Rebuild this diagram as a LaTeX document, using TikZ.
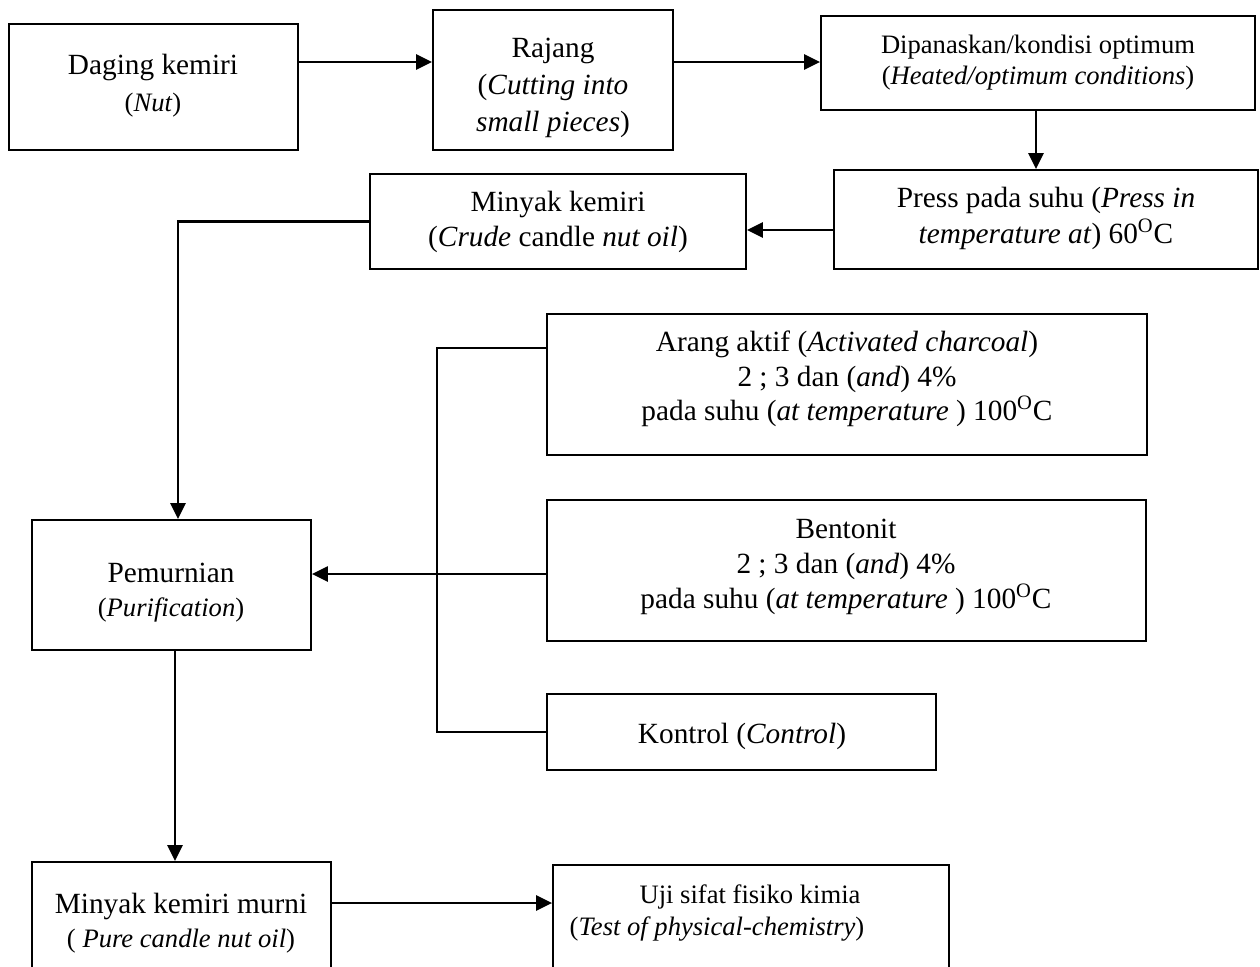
\documentclass[tikz,border=0pt]{standalone}
\usepackage{fontspec}
\setmainfont{Liberation Serif}
\usetikzlibrary{arrows.meta,fit}
\begin{document}
\begin{tikzpicture}[x=0.5pt,y=-0.5pt,
 box/.style={draw,line width=0.9pt,inner sep=0pt},
 lbl/.style={anchor=base,inner sep=0pt,font=\fontsize{14.65}{17}\selectfont},
 slbl/.style={anchor=base,inner sep=0pt,font=\fontsize{13.3}{16}\selectfont},
 arr/.style={line width=1.2pt,-{Triangle[length=8pt,width=7.5pt]}},
 ln/.style={line width=1.1pt}]
\useasboundingbox (0,0) rectangle (1260,966);
\clip (0,0) rectangle (1260,966);
% boxes
\node[box,fit={(9,24)(298,150)}] (b1) {};
\node[box,fit={(433,10)(673,150)}] (b2) {};
\node[box,fit={(821,16)(1255,110)}] (b3) {};
\node[box,fit={(834,170)(1258,269)}] (b4) {};
\node[box,fit={(370,174)(746,269)}] (b5) {};
\node[box,fit={(547,314)(1147,455)}] (b6) {};
\node[box,fit={(547,500)(1146,641)}] (b7) {};
\node[box,fit={(547,694)(936,770)}] (b8) {};
\node[box,fit={(32,520)(311,650)}] (b9) {};
\node[box,fit={(32,862)(331,1010)}] (b10) {};
\node[box,fit={(553,865)(949,1010)}] (b11) {};
% texts
\node[lbl] (t1a) at (153,74) {Daging kemiri};
\node[slbl] (t1b) at (153,111) {(\textit{Nut})};
\node[lbl] (t2a) at (553,57) {Rajang};
\node[lbl] (t2b) at (553,94) {(\textit{Cutting into}};
\node[lbl] (t2c) at (553,131) {\textit{small pieces})};
\node[slbl] (t3a) at (1038,53) {Dipanaskan/kondisi optimum};
\node[slbl] (t3b) at (1038,84) {(\textit{Heated/optimum conditions})};
\node[lbl] (t4a) at (1046,207) {Press pada suhu (\textit{Press in}};
\node[lbl] (t4b) at (1046,243) {\textit{temperature at}) 60\textsuperscript{O}C};
\node[lbl] (t5a) at (558,211) {Minyak kemiri};
\node[lbl] (t5b) at (558,246) {(\textit{Crude} candle \textit{nut oil})};
\node[lbl] (t6a) at (847,351) {Arang aktif (\textit{Activated charcoal})};
\node[lbl] (t6b) at (847,386) {2 ; 3 dan (\textit{and}) 4\%};
\node[lbl] (t6c) at (847,420) {pada suhu (\textit{at temperature} ) 100\textsuperscript{O}C};
\node[lbl] (t7a) at (846,538) {Bentonit};
\node[lbl] (t7b) at (846,573) {2 ; 3 dan (\textit{and}) 4\%};
\node[lbl] (t7c) at (846,608) {pada suhu (\textit{at temperature} ) 100\textsuperscript{O}C};
\node[lbl] (t8a) at (742,743) {Kontrol (\textit{Control})};
\node[lbl] (t9a) at (171,582) {Pemurnian};
\node[slbl] (t9b) at (171,616) {(\textit{Purification})};
\node[lbl] (t10a) at (181,913) {Minyak kemiri murni};
\node[slbl] (t10b) at (181,947) {( \textit{Pure candle nut oil})};
\node[slbl] (t11a) at (750,903) {Uji sifat fisiko kimia};
\node[slbl] (t11b) at (717,935) {(\textit{Test of physical-chemistry})};
% guide coordinates
\coordinate (r1) at (0,62);
\coordinate (c1) at (1036,0);
\coordinate (r2) at (0,230);
\coordinate (c2) at (178,0);
\coordinate (r3) at (0,348);
\coordinate (c4) at (437,0);
\coordinate (r4) at (0,574);
\coordinate (c3) at (175,0);
\coordinate (r5) at (0,903);
% connectors
\draw[arr] (b1.east|-r1) -- (b2.west|-r1);
\draw[arr] (b2.east|-r1) -- (b3.west|-r1);
\draw[arr] (b3.south-|c1) -- (b4.north-|c1);
\draw[arr] (b4.west|-r2) -- (b5.east|-r2);
\draw[arr] (b5.west) -| (b9.north-|c2);
\draw[ln] (b6.west|-r3) -| (c4|-b8.west) -- (b8.west);
\draw[arr] (b7.west|-r4) -- (b9.east|-r4);
\draw[arr] (b9.south-|c3) -- (b10.north-|c3);
\draw[arr] (b10.east|-r5) -- (b11.west|-r5);
\end{tikzpicture}
\end{document}
